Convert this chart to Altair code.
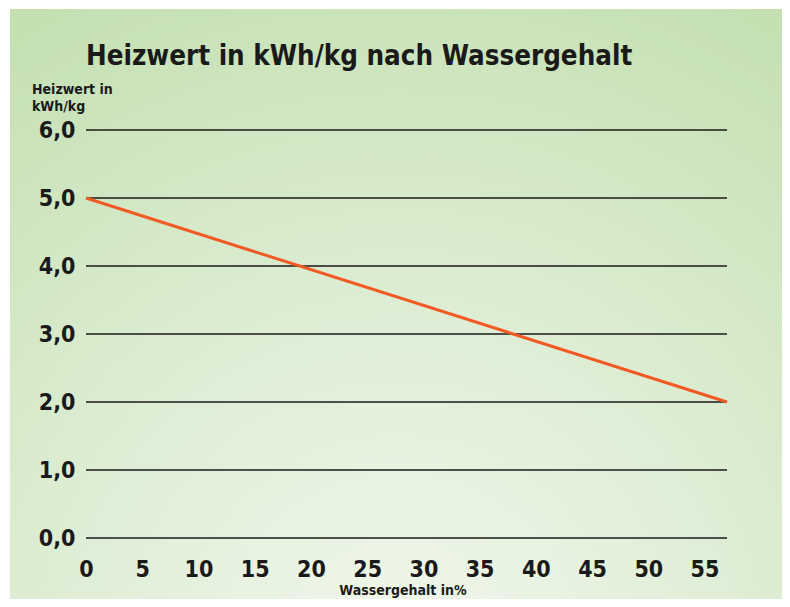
import altair as alt
import pandas as pd

# Data
wassergehalt = [0, 57]          # Wassergehalt in %
heizwert = [5.0, 2.0]           # Heizwert in kWh/kg
x_ticks = [0, 5, 10, 15, 20, 25, 30, 35, 40, 45, 50, 55]
y_ticks = [0, 1, 2, 3, 4, 5, 6]

title_text = "Heizwert in kWh/kg nach Wassergehalt"
y_title = ["Heizwert in", "kWh/kg"]
x_title = "Wassergehalt in%"

FONT = "DejaVu Sans Condensed"
W, H = 641, 408

line_df = pd.DataFrame({"w": wassergehalt, "h": heizwert})
grid_df = pd.DataFrame({"y": y_ticks})
one = pd.DataFrame({"a": [0]})

xscale = alt.Scale(domain=[0, 57], nice=False, zero=False)
yscale = alt.Scale(domain=[0, 6], nice=False)

bg = alt.Chart(one).mark_rect(
    fill=alt.RadialGradient(
        gradient="radial",
        stops=[
            alt.GradientStop(offset=0, color="#f1f7ec"),
            alt.GradientStop(offset=0.45, color="#dfeed6"),
            alt.GradientStop(offset=1, color="#c4e0b1"),
        ],
        x1=0.5, y1=0.95, r1=0,
        x2=0.5, y2=0.95, r2=0.95,
    )
).encode(
    x=alt.value(-76), x2=alt.value(704),
    y=alt.value(-121), y2=alt.value(477),
)

grid = alt.Chart(grid_df).mark_rule(color="#1a1a1a", strokeWidth=1.5).encode(
    y=alt.Y("y:Q", scale=yscale,
            axis=alt.Axis(values=y_ticks, grid=False, ticks=False, domain=False,
                          labelExpr="replace(format(datum.value, '.1f'), '.', ',')",
                          labelFont=FONT, labelFontWeight="bold", labelFontSize=23,
                          labelColor="#1a1a1a", labelPadding=11, title=None,
                          zindex=2)),
    x=alt.value(0), x2=alt.value(W),
)

line = alt.Chart(line_df).mark_line(color="#f15a24", strokeWidth=3).encode(
    x=alt.X("w:Q", scale=xscale,
            axis=alt.Axis(values=x_ticks, grid=False, ticks=False, domain=False,
                          labelFont=FONT, labelFontWeight="bold", labelFontSize=23,
                          labelColor="#1a1a1a", labelPadding=20, labelBaseline="top",
                          labelFlush=False, title=None, zindex=2)),
    y=alt.Y("h:Q", scale=yscale),
)

title = alt.Chart(one).mark_text(
    text=title_text, font=FONT, fontWeight="bold", fontSize=27.5,
    align="left", baseline="alphabetic", color="#1a1a1a"
).encode(x=alt.value(0), y=alt.value(-65))

ytitle = alt.Chart(one).mark_text(
    text=y_title, font=FONT, fontWeight="bold", fontSize=14, lineHeight=17,
    align="left", baseline="alphabetic", color="#1a1a1a"
).encode(x=alt.value(-54), y=alt.value(-36))

xtitle = alt.Chart(one).mark_text(
    text=x_title, font=FONT, fontWeight="bold", fontSize=14,
    align="center", baseline="alphabetic", color="#1a1a1a"
).encode(x=alt.value(317), y=alt.value(465))

chart = alt.layer(bg, grid, line, title, ytitle, xtitle).properties(
    width=W, height=H,
    autosize=alt.AutoSizeParams(type="none"),
    padding={"left": 78, "top": 122, "right": 55, "bottom": 61},
    background="white",
).configure_view(stroke=None)

chart.save("out.html", embed_options={"renderer": "svg", "actions": False})
